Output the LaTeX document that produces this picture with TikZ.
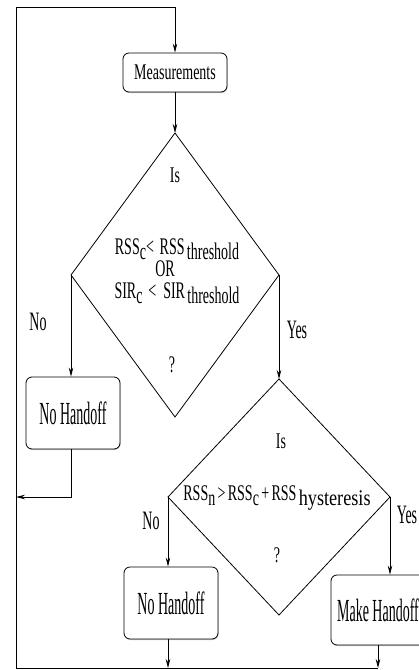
\documentclass[tikz,border=0pt]{standalone}
\usepackage{fontspec}
\setmainfont{Liberation Serif}
\usepackage{graphicx}
\usetikzlibrary{arrows.meta,shadows}
\newcommand{\vs}[2]{\scalebox{1}[#1]{#2}}
\newcommand{\lo}[1]{\raisebox{-3.5pt}{#1}}
\begin{document}
\begin{tikzpicture}[x=1pt,y=-1pt,
  font=\fontsize{14}{16}\selectfont,
  line width=0.8pt,
  arr/.style={-{Stealth[length=9pt,width=4.5pt]}},
  procbox/.style={draw, rounded corners=6pt, inner sep=0pt, fill=white,
    drop shadow={shadow xshift=0.6pt,shadow yshift=-1pt,fill=gray!60,opacity=0.7}},
  txt/.style={inner sep=0pt},
  lbl/.style={inner sep=0pt},
]
\useasboundingbox (0,0) rectangle (419,670);
\clip (0,0) rectangle (419,670);

% process boxes
\node[procbox, minimum width=104pt, minimum height=39pt] (meas) at (175,72.5) {\vs{1.6}{Measurements}};
\node[procbox, minimum width=94pt, minimum height=72pt] (box1) at (73,413) {\vs{2.3}{No Handoff}};
\node[procbox, minimum width=94pt, minimum height=72pt] (box2) at (171,603) {\vs{2.3}{No Handoff}};
\node[procbox, minimum width=100pt, minimum height=70pt] (box3) at (381,610) {\hspace*{-6pt}\vs{2.3}{Make Handoff}};

% decision diamonds
\coordinate (d1t) at (175,133);
\coordinate (d1l) at (71,275);
\coordinate (d1bt) at (175,417);
\coordinate (d1r) at (279,275);
\draw (d1t) -- (d1r) -- (d1bt) -- (d1l) -- cycle;

\coordinate (d2t) at (279,379);
\coordinate (d2l) at (168,497);
\coordinate (d2bt) at (279,615);
\coordinate (d2r) at (390,497);
\draw (d2t) -- (d2r) -- (d2bt) -- (d2l) -- cycle;

% diamond texts
\node[txt, anchor=base] (d1is) at (175,182) {\vs{1.6}{Is}};
\node[txt, anchor=base] (d1a) at (177,254) {\vs{1.7}{RSS\lo{c}<\,~RSS\,\lo{threshold}}};
\node[txt, anchor=base] (d1or) at (165,276.5) {\vs{1.7}{OR}};
\node[txt, anchor=base] (d1c) at (177,298) {\vs{1.7}{SIR\lo{c}\,~<~~SIR\,\lo{threshold}}};
\node[txt, anchor=base] (d1q) at (172,372) {\vs{1.7}{?}};

\node[txt, anchor=base] (d2is) at (281,448) {\vs{1.6}{Is}};
\node[txt, anchor=base] (d2a) at (277,500) {\vs{1.6}{RSS\lo{n}\,>\,RSS\lo{c}\,+\,RSS\,\lo{\scalebox{1.3}[1]{hysteresis}}}};
\node[txt, anchor=base] (d2q) at (277,562) {\vs{1.6}{?}};

% branch labels
\node[lbl] (no1) at (38,322) {\vs{1.9}{No}};
\node[lbl] (yes1) at (297,330) {\vs{1.9}{Yes}};
\node[lbl] (no2) at (151,521) {\vs{1.9}{No}};
\node[lbl] (yes2) at (407,515) {\vs{1.9}{Yes}};

% feedback loop coordinates
\coordinate (fbtl) at (16,7);
\coordinate (fbbl) at (16,668);
\coordinate (j1) at (71,497);
\coordinate (j3) at (378,668);

% connectors
\draw[arr] (fbbl) -- (fbtl) -- (meas.north |- fbtl) -- (meas.north);
\draw[arr] (meas.south) -- (d1t);
\draw[arr] (d1l) -- (d1l |- box1.north);
\draw[arr] (d1r) -- (d2t);
\draw[arr] (d1l |- box1.south) -- (j1) -- (j1 -| fbtl);
\draw[arr] (d2l) -- (d2l |- box2.north);
\draw[arr] (d2r) -- (d2r |- box3.north);
\draw (fbbl) -- (j3);
\draw[arr] (d2l |- box2.south) -- (d2l |- fbbl);
\draw[arr] (j3 |- box3.south) -- (j3);
\end{tikzpicture}
\end{document}
